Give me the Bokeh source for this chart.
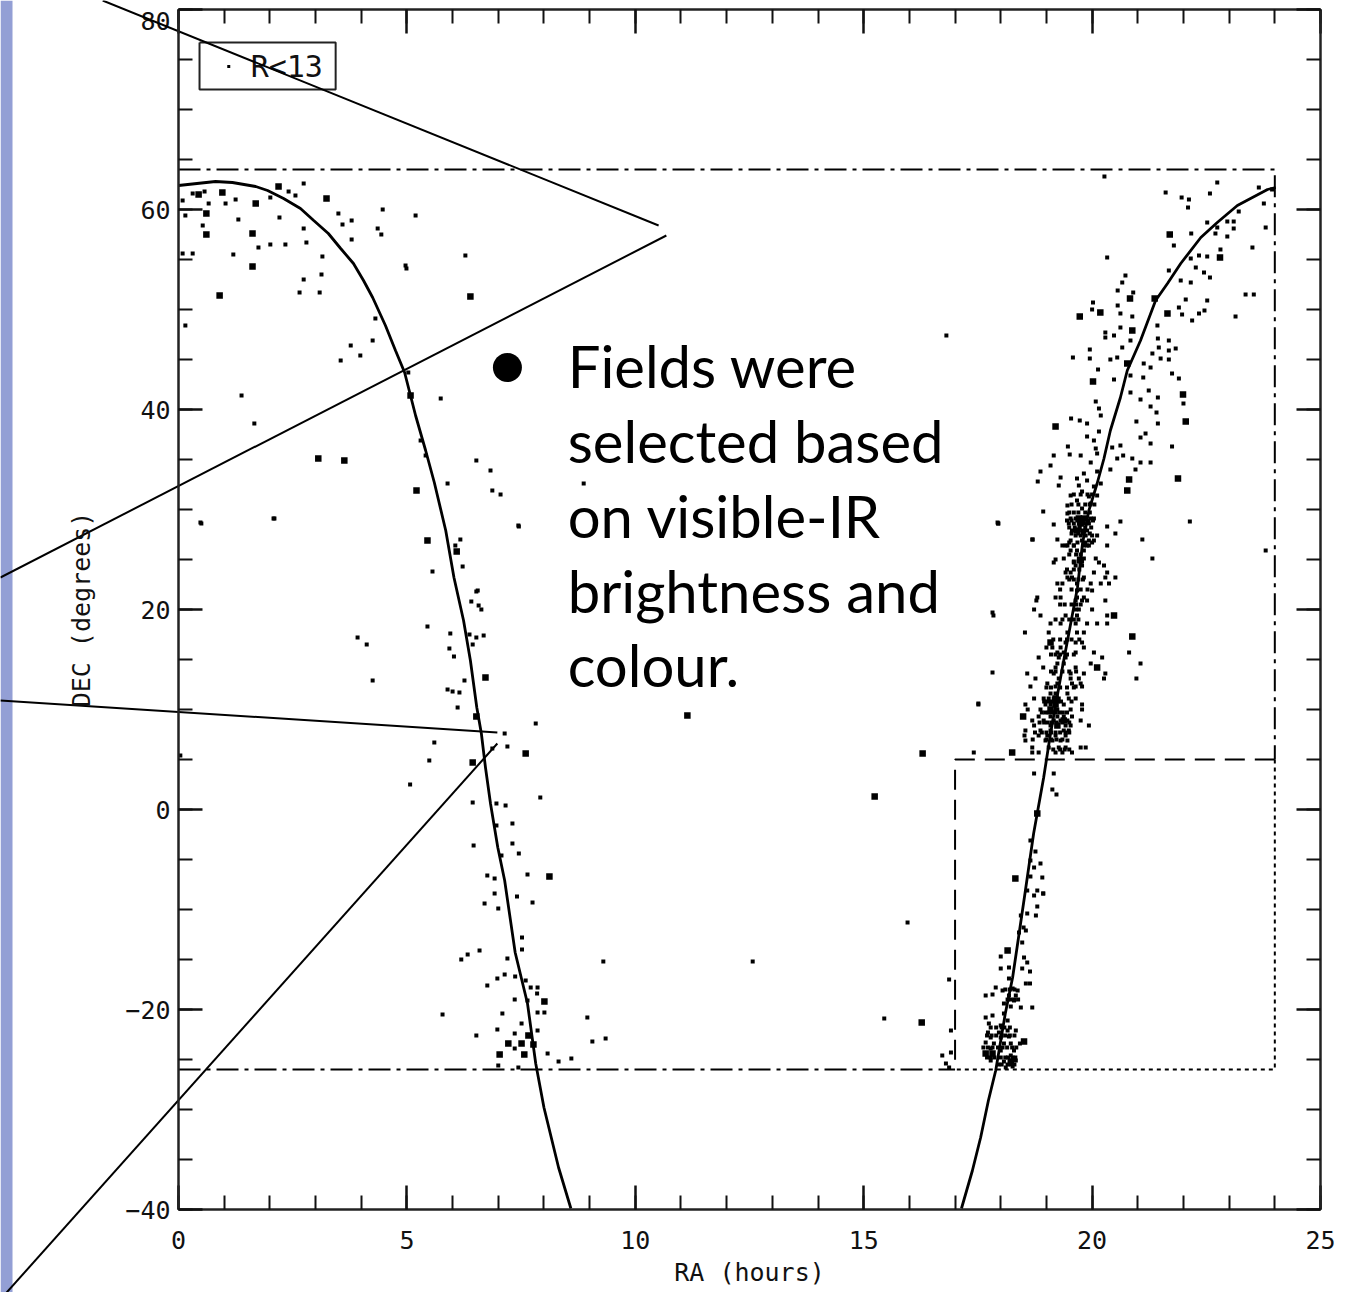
from bokeh.plotting import figure
from bokeh.models import Range1d, LinearAxis, FixedTicker
from bokeh.core.properties import value
from bokeh.embed import file_html
from bokeh.resources import INLINE

# ---------- data ----------
x_major = [0, 5, 10, 15, 20, 25]
x_minor = [i for i in range(0, 26)]
y_major = [-40, -20, 0, 20, 40, 60, 80]
y_minor = [i for i in range(-40, 81, 5)]
y_labels = {-40: "\u221240", -20: "\u221220", 0: "0", 20: "20", 40: "40", 60: "60", 80: ""}
top_label = "80"

curve_left_ra = [0, .81, 1.18, 1.69, 1.95, 2.3, 2.67, 2.96, 3.28, 3.55, 3.83, 4.05, 4.25, 4.53, 4.75, 4.95, 5.19, 5.41, 5.6, 5.85, 6.03, 6.24, 6.39, 6.53, 6.63, 6.72, 6.83, 6.99, 7.14, 7.37, 7.64, 7.82, 8, 8.32, 8.59]
curve_left_dec = [62.4, 62.8, 62.7, 62.3, 61.9, 61.1, 60.1, 58.9, 57.6, 56.1, 54.6, 52.9, 51.2, 48.4, 45.9, 43.7, 39.4, 35.9, 32.7, 27.9, 23.2, 18.9, 14.9, 10.2, 7.6, 4.2, .6, -3.8, -7.1, -14.3, -19.4, -25.4, -29.8, -35.8, -39.9]
curve_right_ra = [17.14, 17.38, 17.56, 17.73, 17.89, 18.1, 18.26, 18.37, 18.54, 18.72, 18.94, 19.09, 19.35, 19.68, 19.79, 19.93, 20.11, 20.26, 20.4, 20.62, 20.77, 21.06, 21.39, 21.65, 21.94, 22.38, 22.74, 23.18, 23.84, 24.02]
curve_right_dec = [-39.9, -36.1, -32.8, -29.1, -26.1, -20.4, -16.8, -13.4, -8.1, -2.4, 3.2, 7.6, 14.2, 22.2, 26.6, 29.9, 32.6, 35.1, 37.9, 41.2, 43.9, 46.9, 50.9, 52.6, 54.6, 57.2, 58.7, 60.4, 62, 62.2]

bright = [
 (.61,57.5),(1.62,57.6),(1.62,54.3),(.44,61.5),(.96,61.7),(.61,59.6),(3.24,61.1),(2.19,62.3),(1.69,60.6),(.9,51.4),
 (6.39,51.3),(3.06,35.1),(3.63,34.9),(5.08,41.4),(5.21,31.9),(5.45,26.9),(6.09,25.8),(6.72,13.2),(6.52,9.3),(7.6,5.6),(6.44,4.7),(8.12,-6.7),
 (8.01,-19.2),(7.66,-22.6),(7.22,-23.4),(7.51,-23.4),(7.77,-23.5),(7.03,-24.5),(7.57,-24.5),
 (11.14,9.4),(15.24,1.3),(16.29,5.6),(16.27,-21.3),
 (21.7,57.5),(22.8,55.2),(20.83,51.1),(19.73,49.3),(20.18,49.7),(21.37,51.1),(21.65,49.6),(20.88,47.9),(20.02,42.8),(20.77,44.6),(19.2,38.3),(22.05,38.8),(21.99,41.5),(20.77,31.9),(20.81,33),(21.88,33.1),
 (20.48,19.4),(20.88,17.3),(20.11,14.2),(18.49,9.3),(18.25,5.7),(18.8,-.4),(18.32,-6.9),(18.15,-14.1),(18.51,-23.2),(17.67,-24.4),(17.82,-24.4),(18.22,-25.2),
 (19.09,16.7),(19.2,10.5),(19.09,10),(19.2,11.1),(19.38,8.9),(19.24,8.4),(19.71,29.1),(19.75,28.6),(19.67,27.9),(19.82,29.1),
]
faint_ra = [
 .09,.66,1.03,1.25,.31,.57,2.74,2.56,2.41,2.01,3.5,4.47,5.19,3.79,3.59,2.21,1.31,.53,2.74,4.36,4.44,3.79,2.8,2.34,2.01,1.75,3.15,1.2,4.99,3.13,2.74,2.65,3.09,.09,.31,.15,
 6.28,.15,1.66,1.38,2.08,.48,3.55,3.98,3.77,4.25,4.31,4.97,5.03,5.74,5.3,5.41,6.06,6.52,6.83,6.87,7.44,6.55,6.57,
 5.89,7.05,7.45,8.87,2.1,.5,6.17,6.22,5.56,6.52,6.41,6.63,5.45,5.95,6.37,6.68,6.52,6.44,5.93,6.03,3.92,4.12,4.25,6.26,5.89,6,6.15,6.11,7.82,7.14,5.6,5.49,7.2,6.87,5.07,6.44,7.92,6.96,7.16,7.31,6.96,7.31,6.46,7.45,7.07,7.64,6.76,6.92,.04,
 6.92,7.41,7.75,6.7,7,7.52,7.52,6.59,6.33,6.19,7.2,9.3,7.14,6.98,7.37,7.6,6.76,7.71,7.86,7.85,7.36,7.64,7.09,7.86,8.01,8.95,5.78,7.51,6.98,7.86,7.36,6.52,9.35,9.06,7.36,8.08,8.32,8.6,7.44,7,
 12.57,15.96,15.45,16.81,17.93,17.82,17.51,17.82,17.84,17.95,18.69,
 20.27,21.61,22.74,22.58,21.96,22.12,22.1,23.65,23.94,23.21,22.96,23.1,23.1,22.74,22.52,23.8,23.76,22.96,22.7,22.17,21.79,23.51,22.81,22.34,22.52,22.16,20.33,22.27,22.45,22.58,21.68,20.73,20.66,21.94,22.16,20.56,20.9,23.36,23.54,22.05,22.52,20.02,20.56,20,21.9,20.62,20.88,21.97,22.34,22.46,23.14,22.19,21.43,20.62,20.29,20.48,20.29,20.84,21.44,21.68,21.46,19.95,20.66,21.83,21.68,21.32,19.58,19.95,20.4,20.55,21.5,21.68,21.13,21.28,20.13,21.75,21.9,20.48,21.12,20.84,20.84,21.06,21.24,21.44,20.08,22,21.28,21.41,20.15,20.19,19.54,19.73,19.89,20.97,21.44,20.15,21.17,21.06,19.89,20.04,19.47,19.51,20.62,20.44,21.28,21.75,20.08,19.16,19.75,20.68,20.55,20.88,21.06,21.28,19.09,19.97,20.11,20.4,20.95,18.87,19.31,18.81,19.27,20.11,19.82,19.67,19.89,19.71,20.04,20.19,19.78,19.53,19.93,20.11,19.67,19.46,19.97,19.78,18.93,19.46,20.62,22.14,19.16,20.33,17.94,20.51,18.7,21.1,19.24,23.8,
 19.53,19.64,19.75,19.86,19.97,20.04,19.49,19.6,19.71,19.82,19.93,19.56,19.67,19.78,19.89,19.64,19.75,19.86,20,20.11,19.53,19.78,19.93,20.04,19.35,19.46,19.6,19.82,19.93,
 19.42,19.6,19.89,20.33,19.53,19.67,19.82,19.38,19.71,19.82,20.08,21.32,19.2,19.6,19.75,20.15,19.16,19.64,19.78,20.26,19.42,19.53,20.04,20.33,19.46,19.56,19.82,20.51,20.29,19.24,19.35,19.67,19.97,20.19,20.37,19.67,20,18.8,19.2,19.31,19.67,19.82,18.78,19.64,19.78,19.89,20.29,18.73,19.64,19.71,20,18.87,19.42,19.67,20.33,19.09,19.31,19.64,19.89,20.11,20.33,18.53,19.05,19.46,19.67,19.82,19.42,19.64,19.78,19.13,19.31,19.82,19,19.24,19.38,19.64,20.04,20.81,18.83,19.27,19.42,20.22,19.24,19.38,19.97,21.06,18.93,19.2,19.64,18.58,19.16,19.53,19.82,20.29,18.76,19.27,19.53,19.71,20.26,20.97,19.02,19.24,19.56,19.75,18.65,19.2,19.64,19.78,19.09,19.2,19.46,18.73,18.94,19.05,19.16,19.27,19.49,19.64,18.54,18.98,19.09,19.38,19.78,17.51,18.59,18.87,19.24,19.53,19.78,18.83,19.09,19.24,19.38,19.56,18.69,18.94,19.16,19.31,19.46,19.75,18.73,19.09,19.42,19.53,19.93,18.54,18.87,19.09,19.38,19.49,18.52,18.83,19.02,19.2,19.42,18.54,18.98,19.13,19.31,19.46,18.69,19.05,19.27,19.42,19.75,19.86,17.41,18.69,18.83,19.2,19.35,19.56,18.73,19.16,19.13,19.22,
 18.65,18.76,18.65,18.73,18.87,18.65,18.91,18.58,18.8,18.93,18.93,18.73,18.8,18.77,18.44,18.58,18.5,18.4,18.55,18.47,18,18.51,18.58,18,18.18,18.47,18.64,18.18,16.87,18.55,18.64,17.89,18.04,18.26,18.37,17.67,17.82,18.18,18.33,18.29,18.07,18.44,18.69,18.22,17.67,17.82,18.07,17.74,18,18.15,16.91,17.72,17.96,18.15,18.33,17.78,18,18.18,18.42,17.67,17.85,18.07,18.22,17.78,18,18.29,18.22,16.91,16.72,16.8,17.78,18.07,18.33,18.11,18.26,16.87,
]
faint_dec = [
 60.9,60.6,60.6,61,61.6,61.8,62.6,61.4,61.8,61.2,59.6,60,59.4,58.9,58.5,59.2,59,58.4,58.1,58.1,57.5,57,56.7,56.5,56.5,56.2,55.3,55.5,54.1,53.5,53,51.7,51.7,55.6,55.6,59.4,
 55.4,48.4,38.6,41.4,29.1,28.7,44.9,45.4,46.4,46.9,49.1,54.4,43.7,41.1,36.9,35.4,26.4,34.9,33.9,31.9,28.4,21.9,20.4,
 32.6,31.5,28.3,32.6,29.1,28.6,27,24.3,23.8,21.8,20.8,20,18.3,17.6,17.5,17.4,17.2,16.5,16.1,15.3,17.2,16.5,12.9,12.9,12,11.8,11.7,10.2,8.6,7.6,6.7,4.9,6.3,6.1,2.5,.7,1.2,.6,.4,-1.4,-1.6,-3.4,-3.6,-4.4,-4.6,-6.5,-6.6,-6.9,5.4,
 -8.4,-8.7,-9.3,-9.4,-9.9,-12.8,-14,-14.1,-14.5,-15,-14.9,-15.2,-16.5,-16.9,-16.7,-17.1,-17.6,-17.8,-17.8,-18.4,-19,-19.1,-20.4,-20.3,-20.3,-20.8,-20.5,-21.4,-22,-22.1,-22.4,-22.6,-22.9,-23.2,-23.9,-24.4,-25.2,-24.9,-25.8,-25.6,
 -15.2,-11.3,-20.9,47.4,28.7,19.7,10.6,13.7,19.4,28.6,27,
 63.3,61.7,62.7,61.6,61.2,61,60.2,62.2,62,59.8,58.8,58.8,58.1,58.2,58.7,58.2,60.6,57.3,57.6,57.6,56.4,56.2,56,55.4,55.3,55.1,55.2,54.2,53.7,53.2,53.9,53.4,52.7,52.9,52.7,51.9,51.7,51.5,51.5,51,50.9,50.7,50.4,50,50.2,49.6,49.3,49.5,49.6,49.9,49.3,48.9,48.4,48.2,47.7,47.4,47.2,46.9,47.1,46.9,46.2,46,46.2,46.1,45.9,45.6,45.2,45.1,45,45.2,45.1,45,44.6,44.2,44,43.6,43.1,43,43.2,43.4,41.7,41,41.9,41.2,40.8,40.6,40.3,39.7,40.1,39.4,39.1,38.9,38.6,38.8,38.6,37.8,37.6,37.2,37.3,36.9,36.3,35.5,36.4,36.2,36.6,36.3,36.1,35.4,35.4,35.4,35.1,35.1,34.7,34.7,34.4,34.7,35.6,34,34,33.8,33.2,32.8,32.4,33.8,33.6,33.1,32.9,32.4,32.3,32.6,31.8,31.4,31.3,31.4,30.9,30.4,30.6,30.1,29.8,29.6,28.8,28.8,28.5,28.3,28.6,27.6,27,27,27,25.9,
 29.1,29.1,29.1,29.1,29.1,29.1,28.6,28.6,28.6,28.6,28.6,27.9,27.9,27.9,27.9,27.4,27.4,27.4,27.4,27.4,26.9,26.9,26.9,26.9,26.4,26.4,26.4,26.4,26.4,
 26.4,26.4,26.4,26.4,25.9,25.9,25.9,25.1,25.1,25.1,25.1,25.1,25,24.7,24.7,24.7,24.7,24.4,24.4,24.4,23.7,23.7,23.7,23.7,23.2,23.2,23.2,23.2,23.2,22.6,22.6,22.6,22.6,22.6,22.6,21.9,21.9,21.2,21.2,21.2,21.2,21.2,20.9,20.9,20.9,20.9,20.9,20,20,20,20,19.4,19.4,19.4,19.4,18.6,18.6,18.6,18.6,18.6,18.6,17.7,17.7,17.7,17.7,17.7,16.7,16.7,16.7,16.2,16.2,16.2,16.2,15.7,15.7,15.7,15.7,15.7,15.2,15.2,15.2,15.2,14.6,14.6,14.6,14.6,14.2,14.2,14.2,13.6,13.6,13.6,13.6,13.6,13.1,13.1,13.1,13.1,13.1,13.1,12.6,12.6,12.6,12.6,12.3,12.3,12.3,12.3,11.6,11.6,11.6,11.1,11.1,11.1,11.1,11.1,11.1,11.1,10.5,10.5,10.5,10.5,10.5,10.5,10,10,10,10,10,9.3,9.3,9.3,9.3,9.3,8.9,8.9,8.9,8.9,8.9,8.9,8.4,8.4,8.4,8.4,8.4,7.9,7.9,7.9,7.9,7.9,7.4,7.4,7.4,7.4,7.4,6.9,6.9,6.9,6.9,6.9,6.2,6.2,6.2,6.2,6.2,6.2,5.7,5.7,5.7,5.7,5.7,5.7,3.6,3.6,2,1.5,
 -3.1,-4.2,-5.1,-5.8,-5.4,-6.7,-6.8,-8.1,-8.1,-8.4,-8.4,-8.6,-9.7,-10.6,-10.6,-10.4,-11.8,-12.3,-12.1,-13.3,-14.7,-14.8,-15.3,-15.9,-15.8,-15.9,-16.2,-16.9,-17,-17.4,-17.4,-17.8,-18.1,-17.9,-18.1,-18.6,-18.5,-18.6,-18.6,-19.1,-19.4,-19.8,-19.8,-19.7,-20.8,-20.6,-20.4,-21.4,-21.6,-21.1,-22.1,-22.3,-22.3,-22.1,-22.1,-22.8,-22.8,-22.7,-23.4,-23.3,-23.4,-23.4,-23.4,-23.9,-24.1,-24.1,-24.6,-24.3,-24.6,-25.4,-25.1,-25.2,-25.1,-25.8,-25.7,-25.8,
]
# dense parts of the band, row by row: (dec, [ra...])
dense_rows = [
 (31.5,[19.6,19.75,19.9,20.0]),(30.5,[19.55,19.7,19.85,19.95,20.05]),(29.7,[19.5,19.6,19.7,19.85,19.95]),
 (28.9,[19.45,19.55,19.68,19.8,19.92,20.02]),(28.2,[19.5,19.62,19.73,19.85,19.98]),(27.6,[19.55,19.7,19.8,19.95]),
 (26.7,[19.5,19.68,19.85,20.0]),(25.5,[19.5,19.65,19.75]),(24.8,[19.6,19.7,19.78]),(24,[19.45,19.6,19.72]),(23,[19.5,19.6,19.7,19.8]),(22,[19.3,19.55,19.75,19.9]),
 (20.5,[19.3,19.4,19.55,19.65,19.75]),(19,[19.2,19.35,19.5,19.6,19.7]),(17,[19.15,19.3,19.45,19.55,19.72]),(15.5,[19.1,19.2,19.3,19.45,19.6]),(13.8,[19.1,19.2,19.35,19.5,19.65]),(12.2,[19.0,19.1,19.3,19.45,19.6]),
 (10.8,[18.95,19.02,19.1,19.18,19.25,19.32,19.55]),(9.7,[18.9,18.98,19.05,19.12,19.2,19.28,19.36,19.45]),
 (8.7,[18.85,18.95,19.03,19.12,19.22,19.35,19.5]),(7.7,[18.75,18.9,19,19.1,19.2,19.3,19.42,19.5]),
 (7,[18.7,19,19.1,19.22,19.35]),(6,[19.15,19.3,19.4,19.5]),
 (-24.8,[17.7,17.78,17.86,18,18.1,18.16,18.26,18.32]),(-23.8,[17.62,17.72,17.82,17.94,18.04,18.14,18.25,18.34]),
 (-22.6,[17.7,17.8,17.9,18.02,18.1,18.2,18.3]),(-21.8,[17.78,17.9,18.02,18.08,18.2]),(-25.5,[17.95,18.02,18.15,18.22,18.3]),
 (-19,[18.15,18.22,18.3,18.38]),(-18,[18.1,18.2,18.3]),
]
n = min(len(faint_ra), len(faint_dec))
faint_ra, faint_dec = faint_ra[:n], faint_dec[:n]
for d, ras in dense_rows:
    faint_ra = faint_ra + ras
    faint_dec = faint_dec + [d] * len(ras)
bright_ra = [b[0] for b in bright]
bright_dec = [b[1] for b in bright]

bullet_lines = ["Fields were", "selected based", "on visible-IR", "brightness and", "colour."]
bullet_dec = [44.4, 36.9, 29.4, 21.9, 14.5]

# ---------- figure ----------
p = figure(width=1349, height=1292, output_backend="svg", toolbar_location=None,
           x_range=Range1d(-3.897, 25.635), y_range=Range1d(-48.3, 80.9),
           x_axis_type=None, y_axis_type=None, min_border=0, outline_line_color=None,
           background_fill_color="white", border_fill_color="white")

FONT = "DejaVu Sans Mono"

def style(ax, major, minor, loc, bounds):
    ax.ticker = FixedTicker(ticks=major, minor_ticks=minor)
    ax.fixed_location = loc
    ax.bounds = bounds
    ax.axis_line_width = 2.5
    ax.axis_line_color = "#222222"
    ax.major_tick_line_color = "#111111"
    ax.minor_tick_line_color = "#111111"
    ax.major_tick_line_width = 2.5
    ax.minor_tick_line_width = 2
    ax.major_tick_in = 24
    ax.major_tick_out = 0
    ax.minor_tick_in = 14
    ax.minor_tick_out = 0
    ax.major_label_text_font = FONT
    ax.major_label_text_font_size = "25px"
    ax.major_label_text_color = "#111111"
    ax.axis_label_text_font = FONT
    ax.axis_label_text_font_size = "25px"
    ax.axis_label_text_font_style = "normal"
    ax.axis_label_text_color = "#111111"

bottom = LinearAxis(axis_label="RA (hours)")
style(bottom, x_major, x_minor, -40, (0, 25))
bottom.major_label_standoff = 21
bottom.axis_label_standoff = 6
p.add_layout(bottom, "below")

left = LinearAxis(axis_label="DEC (degrees)")
style(left, y_major, y_minor, 0, (-40, 80))
left.major_label_overrides = y_labels
left.major_label_standoff = 8
left.axis_label_standoff = 26
p.add_layout(left, "left")

top = LinearAxis()
style(top, x_major, x_minor, 80, (0, 25))
top.major_label_text_color = None
p.add_layout(top, "above")

right = LinearAxis()
style(right, y_major, y_minor, 25, (-40, 80))
right.major_label_text_color = None
p.add_layout(right, "right")

# the top tick label sits just under its tick, inside the page
p.text([-0.175], [78.9], text=[top_label], text_font=value(FONT), text_font_size="25px",
       text_baseline="middle", text_align="right", text_color="#111111")

# side band of the slide
p.quad(left=[-3.897], right=[-3.634], bottom=[-48.3], top=[80.9], fill_color="#939FD5", line_color=None)

# survey region boundaries
p.line([0, 24, 24], [64, 64, 5], line_color="black", line_width=2, line_dash="22 6 4 6")
p.line([0, 17], [-26, -26], line_color="black", line_width=2, line_dash="22 6 4 6")
p.line([24, 17, 17], [5, 5, -26], line_color="black", line_width=2, line_dash="20 10")
p.line([24, 24, 17], [5, -26, -26], line_color="black", line_width=2, line_dash="4 4")

# curves
p.line(curve_left_ra, curve_left_dec, line_color="black", line_width=2.8)
p.line(curve_right_ra, curve_right_dec, line_color="black", line_width=2.8)

# stars
p.scatter(faint_ra, faint_dec, marker="square", size=4, fill_color="black", line_color=None)
p.scatter(bright_ra, bright_dec, marker="square", size=6.5, fill_color="black", line_color=None)

# legend box
p.line([.46, 3.44, 3.44, .46, .46], [76.7, 76.7, 72, 72, 76.7], line_color="#222222", line_width=2)
p.scatter([1.1], [74.3], marker="square", size=3, fill_color="black", line_color=None)
p.text([1.58], [74.3], text=["R<13"], text_font=value(FONT), text_font_size="30px",
       text_baseline="middle", text_align="left", text_color="#111111")

# call-out lines
p.line([-1.66, 10.51], [80.9, 58.4], line_color="black", line_width=2)
p.line([10.68, -3.9], [57.4, 23.2], line_color="black", line_width=2)
p.line([-3.9, 6.98], [10.9, 7.7], line_color="black", line_width=2)
p.line([6.98, -3.9], [6.6, -49], line_color="black", line_width=2)

# bullet text
p.scatter([7.2], [44.2], marker="circle", size=29, fill_color="black", line_color=None)
p.text([8.52] * len(bullet_lines), bullet_dec, text=bullet_lines, text_font=value("Lato"),
       text_font_size="58px", text_baseline="alphabetic", text_align="left", text_color="black")

open("out.html", "w").write(file_html(p, INLINE))
